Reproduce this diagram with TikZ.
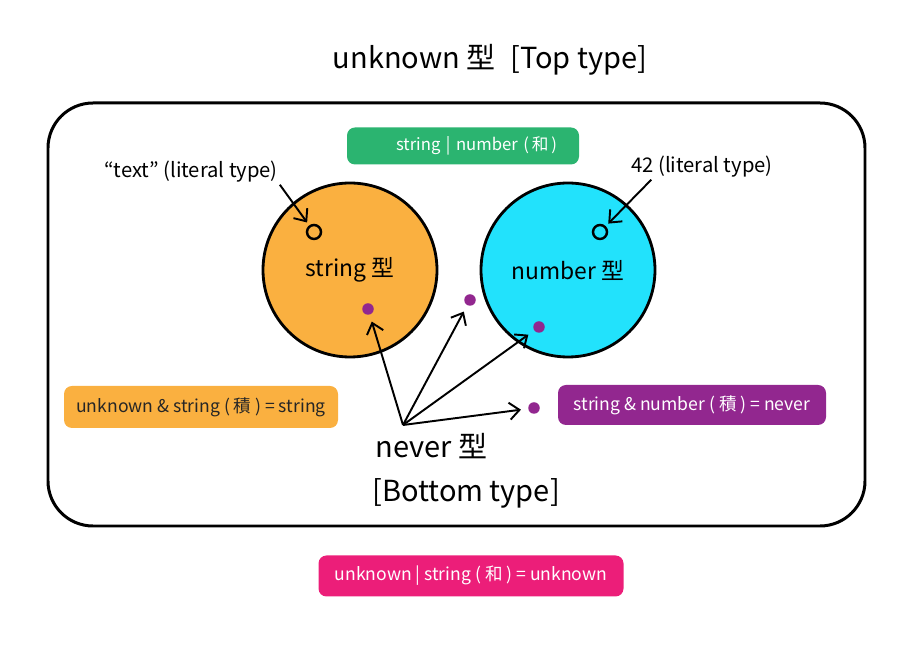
\documentclass[tikz,border=0pt]{standalone}
\usepackage{fontspec}
\setmainfont{Noto Sans CJK JP}
\usetikzlibrary{positioning,arrows.meta}
\tikzset{>={Straight Barb[length=2mm,width=3.4mm]}}
\definecolor{typeorange}{RGB}{250,176,64}
\definecolor{typecyan}{RGB}{34,226,252}
\definecolor{typegreen}{RGB}{43,180,112}
\definecolor{typepurple}{RGB}{146,39,143}
\definecolor{typepink}{RGB}{236,30,121}
\tikzset{
  tagbox/.style={rounded corners=0.16cm, inner sep=2pt, font=\fontsize{10}{12}\selectfont},
  typeset/.style={draw, circle, line width=1.6pt, minimum size=3.48cm, font=\fontsize{13}{15}\selectfont},
  literal/.style={draw, circle, line width=1.4pt, minimum size=0.28cm, inner sep=0pt},
  member/.style={circle, fill=typepurple, minimum size=0.23cm, inner sep=0pt},
  bigtext/.style={font=\fontsize{16.5}{19}\selectfont, inner sep=0pt}
}

\begin{document}
\begin{tikzpicture}
      \useasboundingbox (0,0) rectangle (18,-13);
      \node[bigtext] (top) at (9.8,-1.2) {unknown 型\enspace[Top type]};
      \draw[line width=1.7pt, rounded corners=0.9cm] (0.96,-2.06) rectangle (17.3,-10.52);
      \node[tagbox, fill=typegreen, text=white, font=\fontsize{9.5}{11}\selectfont, minimum height=0.74cm, inner xsep=0.44cm, text width=3.76cm, align=right] (union) at (9.26,-2.92) {string | number (\,和\,)};
      \node[typeset, fill=typeorange] (strc) at (7.0,-5.4) {string 型};
      \node[typeset, fill=typecyan, right of=strc, node distance=4.36cm] (numc) {number 型};
      \node[literal] (o1) at (6.28,-4.64) {};
      \node[literal] (o2) at (12.0,-4.64) {};
      \node[font=\fontsize{11.5}{13}\selectfont, inner sep=1pt] (lit1) at (3.82,-3.44) {“text” (literal type)};
      \node[font=\fontsize{11.5}{13}\selectfont, inner sep=1pt] (lit2) at (14.04,-3.34) {42 (literal type)};
      \draw[->, line width=1.1pt, shorten >=2pt] (lit1.south east) -- (o1);
      \draw[->, line width=1.1pt, shorten >=2pt] ([xshift=0.44cm]lit2.south west) -- (o2);
      % never
      \node[member] (d1) at (7.36,-6.18) {};
      \node[member] (d2) at (9.4,-6.0) {};
      \node[member] (d3) at (10.78,-6.54) {};
      \node[member] (d4) at (10.68,-8.16) {};
      \coordinate (orig) at (8.06,-8.5);
      \foreach \d in {d1,d2,d3,d4}
        \draw[->, line width=1.1pt, shorten >=4pt] (orig) -- (\d);
      \node[bigtext, anchor=north west] (nev) at (7.5,-8.66) {never 型};
      \node[bigtext, below=0.38cm of nev.south west, anchor=north west, xshift=-0.06cm] (bot) {[Bottom type]};
      % tags
      \node[tagbox, fill=typeorange, text=black!85, minimum width=5.48cm, minimum height=0.84cm] (inter1) at (4.02,-8.14) {unknown \& string ( 積 ) = string};
      \node[tagbox, fill=typepurple, text=white, minimum width=5.36cm, minimum height=0.8cm] (inter2) at (13.84,-8.1) {string \& number ( 積 ) = never};
      \node[tagbox, fill=typepink, text=white, minimum width=6.1cm, minimum height=0.82cm] (union2) at (9.42,-11.52) {unknown | string ( 和 ) = unknown};
    \end{tikzpicture}
\end{document}
